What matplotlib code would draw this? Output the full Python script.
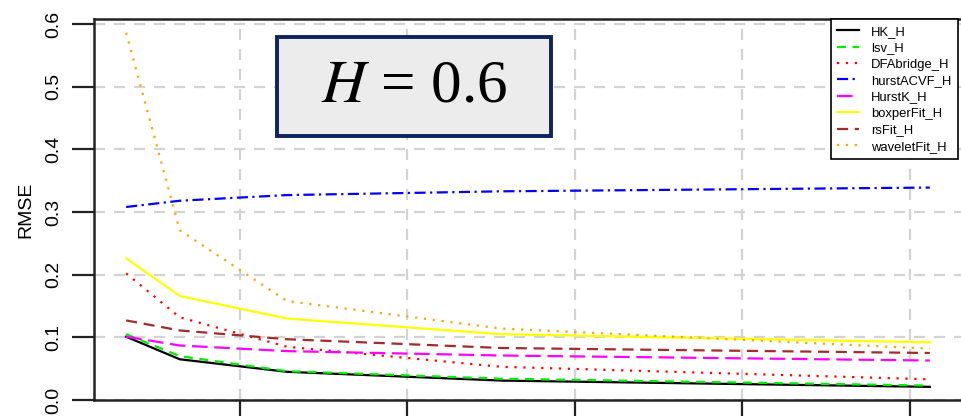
import numpy as np
import matplotlib
matplotlib.use("Agg")
import matplotlib.pyplot as plt
from matplotlib.patches import Rectangle

plt.rcParams['font.family'] = ['Liberation Sans', 'DejaVu Sans']

# sample sizes and RMSE of each Hurst estimator
n = [320, 640, 1280, 2560, 5120]
HK_H = [0.101, 0.065, 0.045, 0.031, 0.021]
lsv_H = [0.105, 0.070, 0.046, 0.034, 0.023]
DFAbridge_H = [0.202, 0.132, 0.085, 0.053, 0.033]
hurstACVF_H = [0.308, 0.318, 0.327, 0.333, 0.339]
HurstK_H = [0.101, 0.087, 0.078, 0.071, 0.063]
boxperFit_H = [0.226, 0.166, 0.130, 0.105, 0.092]
rsFit_H = [0.127, 0.111, 0.097, 0.083, 0.075]
waveletFit_H = [0.586, 0.271, 0.158, 0.114, 0.082]

names = ['HK_H', 'lsv_H', 'DFAbridge_H', 'hurstACVF_H', 'HurstK_H',
         'boxperFit_H', 'rsFit_H', 'waveletFit_H']
series = [HK_H, lsv_H, DFAbridge_H, hurstACVF_H, HurstK_H,
          boxperFit_H, rsFit_H, waveletFit_H]
colors = ['black', '#00ee00', 'red', 'blue', 'magenta',
          'yellow', 'brown', 'orange']
dashes = [(None, None), (4, 3), (1, 3), (5, 2, 1, 2), (7, 3),
          (None, None), (5, 3), (1, 3)]

fig = plt.figure(figsize=(9.61, 4.16), dpi=100)
ax = fig.add_axes([94 / 961, 16 / 416, 868 / 961, 381 / 416])

for ys, lab, c, d in zip(series, names, colors, dashes):
    line, = ax.plot(n, ys, color=c, lw=1.6, label=lab)
    if d[0] is not None:
        line.set_dashes(d)

pad = 0.04 * (n[-1] - n[0])
ax.set_xlim(n[0] - pad, n[-1] + pad)
ax.set_ylim(0, 0.608)
ax.set_xticks([1000, 2000, 3000, 4000, 5000])
ax.set_yticks(np.arange(0, 0.61, 0.1))
ax.set_yticklabels(['0.0', '0.1', '0.2', '0.3', '0.4', '0.5', '0.6'],
                   rotation=90, va='center', fontsize=14)
ax.tick_params(axis='both', length=16, width=1.6, color='#222222',
               labelbottom=False, pad=7)
ax.grid(True, color='#d3d3d3', ls=(0, (5, 4)), lw=1.6)
ax.set_axisbelow(True)
for s in ax.spines.values():
    s.set_linewidth(1.8)
    s.set_color('#222222')
ax.set_ylabel('RMSE', fontsize=14, labelpad=8)

leg = ax.legend(loc='upper right', bbox_to_anchor=(0.9954, 1.0),
                borderaxespad=0, fontsize=9.4, handlelength=1.7,
                handletextpad=0.9, labelspacing=0.33, borderpad=0.5,
                fancybox=False, framealpha=1, edgecolor='black')
leg.get_frame().set_linewidth(1.2)

# label box for the Hurst exponent
ax.add_patch(Rectangle((0.2108, 0.693), 0.3157, 0.2598, transform=ax.transAxes,
                       facecolor='#ececec', edgecolor='#0d2460', lw=2.8,
                       zorder=5))
ax.text(0.3687, 0.823, r'$H$ = 0.6', transform=ax.transAxes,
        ha='center', va='center', fontsize=44, family='Liberation Serif',
        math_fontfamily='stix', zorder=6)

fig.savefig('out.png', dpi=100)
